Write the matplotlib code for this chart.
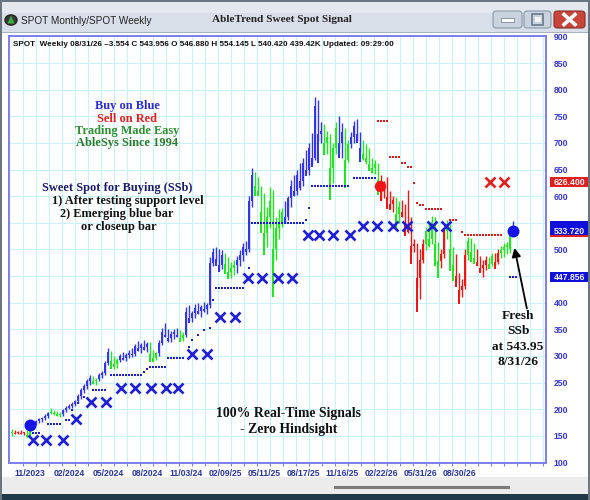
import matplotlib
matplotlib.use('Agg')
import matplotlib.pyplot as plt
from matplotlib.patches import Rectangle, FancyBboxPatch, Circle, Polygon
from matplotlib import font_manager
import matplotlib.transforms as mtransforms
import numpy as np

# ---------------- data (weekly bars, index 0 = first bar) ----------------
bar_colors = ("grrrrggbbbbbbggggbbbbbbbbbbggbbbbgggbbbbbbbbbbgggbbbbbbbggbbbbbbbbbbbbbgggg"
              "bbbbbbggggggggggbbbbbbbbbbbbbgggggbbggbbbbggggggrrrrrggrrrrrrrrgggggrrgggrrrr"
              "gggrrrrggrrggggbb")
opens = [156, 158, 156, 157, 155, 156, 152, 163, 174, 178, 181, 184, 188, 196, 194, 192, 190,
         190, 198, 203, 206, 210, 215, 225, 236, 244, 252, 256, 252, 256, 265, 268, 286, 305,
         290, 285, 292, 300, 296, 302, 306, 304, 318, 314, 320, 316, 320, 304, 296, 305, 325,
         345, 340, 334, 342, 344, 342, 334, 340, 382, 372, 380, 390, 384, 392, 388, 396, 475,
         495, 482, 470, 490, 472, 458, 466, 470, 480, 490, 505, 500, 590, 640, 620, 610, 570,
         530, 560, 590, 500, 540, 548, 570, 560, 596, 620, 610, 640, 628, 662, 650, 690, 672,
         770, 716, 722, 700, 712, 652, 690, 728, 700, 720, 668, 698, 712, 732, 716, 690, 680,
         672, 660, 652, 658, 630, 610, 620, 598, 586, 592, 566, 580, 570, 548, 540, 506, 510,
         446, 480, 510, 534, 520, 552, 510, 478, 492, 534, 540, 500, 470, 450, 424, 432, 490,
         516, 496, 484, 476, 466, 470, 480, 472, 488, 476, 494, 498, 504, 500, 546.88]
highs = [162, 160, 159, 160, 158, 160, 164, 176, 180, 184, 186, 190, 195, 202, 198, 196, 194,
         200, 206, 210, 214, 218, 228, 240, 248, 256, 264, 262, 258, 268, 272, 290, 315, 310,
         300, 296, 304, 308, 306, 312, 314, 322, 328, 324, 330, 326, 326, 312, 308, 330, 352,
         362, 350, 346, 350, 352, 348, 344, 392, 396, 385, 398, 400, 395, 402, 400, 485, 502,
         504, 500, 498, 494, 486, 476, 480, 488, 498, 512, 516, 600, 652, 646, 636, 620, 606,
         580, 617, 612, 560, 575, 578, 590, 600, 630, 640, 650, 662, 672, 687, 700, 718, 786,
         780, 740, 736, 722, 716, 700, 740, 750, 737, 728, 705, 720, 742, 744, 720, 705, 698,
         690, 672, 668, 662, 640, 628, 636, 610, 600, 598, 590, 592, 586, 612, 560, 520, 512,
         500, 520, 542, 550, 562, 560, 514, 500, 540, 556, 548, 504, 492, 456, 444, 500, 524,
         522, 512, 500, 488, 480, 488, 486, 494, 494, 500, 506, 512, 514, 536, 554.145]
lows = [150, 154, 153, 154, 152, 146, 150, 162, 170, 174, 176, 180, 184, 190, 189, 187, 186,
        188, 194, 200, 202, 206, 212, 220, 230, 238, 246, 248, 246, 252, 258, 264, 282, 282,
        275, 278, 288, 292, 290, 296, 298, 300, 310, 306, 312, 308, 298, 290, 292, 300, 320,
        335, 326, 326, 332, 336, 330, 328, 336, 366, 364, 372, 378, 374, 382, 378, 390, 468,
        476, 462, 464, 466, 450, 446, 452, 456, 468, 478, 490, 496, 580, 612, 604, 560, 520,
        505, 540, 476, 480, 520, 542, 550, 556, 580, 600, 602, 612, 620, 644, 640, 660, 668,
        704, 700, 690, 680, 640, 624, 680, 690, 672, 655, 664, 690, 700, 706, 682, 668, 660,
        650, 644, 642, 620, 592, 596, 590, 578, 570, 560, 550, 560, 540, 530, 494, 496, 430,
        406, 474, 498, 505, 510, 500, 470, 466, 484, 520, 490, 460, 442, 414, 410, 426, 480,
        486, 476, 470, 460, 448, 462, 466, 468, 470, 472, 484, 486, 492, 494, 540.42]
closes = [158, 156, 157, 155, 156, 152, 162, 174, 178, 182, 184, 188, 193, 194, 192, 190, 189,
          198, 203, 206, 210, 215, 225, 236, 244, 252, 258, 252, 255, 265, 268, 286, 308, 290,
          285, 292, 300, 296, 302, 306, 304, 318, 314, 320, 316, 322, 304, 296, 305, 325, 345,
          340, 334, 342, 344, 340, 334, 340, 382, 372, 380, 390, 384, 392, 388, 396, 475, 495,
          482, 470, 490, 472, 458, 466, 470, 480, 490, 505, 500, 590, 640, 620, 610, 570, 530,
          560, 590, 500, 540, 548, 570, 560, 596, 620, 610, 640, 628, 662, 650, 690, 672, 770,
          716, 722, 700, 712, 652, 690, 728, 700, 720, 668, 698, 712, 732, 716, 690, 680, 672,
          660, 652, 660, 630, 610, 620, 598, 586, 592, 566, 580, 570, 548, 540, 506, 510, 446,
          480, 510, 534, 520, 552, 510, 478, 492, 534, 540, 500, 470, 450, 424, 432, 490, 516,
          496, 484, 476, 466, 470, 480, 472, 488, 476, 494, 498, 504, 508, 530, 543.956]

# support (blue) and resistance (red) stop dots: segments of bars at one level
sup_start = [7, 12, 18, 20, 22, 24, 27, 33, 44, 45, 46, 47, 52, 59, 60, 62, 64, 66, 67, 68, 79, 80, 98, 99, 100, 114]
sup_end   = [9, 16, 19, 20, 22, 24, 31, 43, 44, 45, 46, 51, 57, 59, 60, 62, 64, 66, 67, 77, 79, 97, 98, 99, 112, 121]
sup_level = [155, 173, 179, 198, 211, 222, 236, 264, 270, 275, 280, 280, 296, 316, 330, 339, 349, 353, 405, 427, 465, 549, 555, 578, 619, 634]
res_start = [122, 126, 130, 132, 134, 135, 136, 138, 146, 150, 151]
res_end   = [125, 129, 131, 133, 134, 135, 137, 143, 148, 150, 163]
res_level = [741, 673, 662, 655, 625, 587, 583, 576, 555, 533, 527]

# big X marks
bx_pos = [7, 11.3, 17, 21.3, 26.3, 31.3, 36.3, 41, 46.3, 51.3, 55.3, 60, 65, 69.3, 74.3,
          78.7, 83.3, 88.7, 93.3, 98.7, 102.3, 107, 112.7, 117, 121.7, 127, 131.7, 140, 144.7]
bx_level = [142, 142, 142, 182, 213, 213, 239, 239, 239, 239, 239, 304, 304, 373, 373,
            446, 446, 446, 446, 527, 527, 527, 527, 544, 544, 544, 544, 544, 544]
rx_pos = [159.3, 164]
rx_level = [626, 626]

# signal circles
buy_circle_pos = [6, 167]
buy_circle_level = [170, 534]
sell_circle_pos = [122.7]
sell_circle_level = [619]

# tick labels
x_tick_pos = [6, 19, 32, 45, 58, 71, 84, 97, 110, 123, 136, 149]
x_tick_labels = ["11/2023", "02/2024", "05/2024", "08/2024", "11/03/24", "02/09/25",
                 "05/11/25", "08/17/25", "11/16/25", "02/22/26", "05/31/26", "08/30/26"]
y_ticks = [100, 150, 200, 250, 300, 350, 400, 450, 500, 550, 600, 650, 700, 750, 800, 850, 900]
y_tick_labels = ["100", "150", "200", "250", "300", "350", "400", "", "500", "", "600",
                 "650", "700", "750", "800", "850", "900"]

# price boxes on the right scale
box_values = [626.400, 543.956, 533.720, 447.856]
box_labels = ["626.400", "", "533.720", "447.856"]
box_colors = ["#e0201c", "#1010d8", "#1010d8", "#1010d8"]

stop_small_pos = [166, 167, 168]
stop_small_level = [448, 448, 448]

# ---------------- fonts ----------------
names = {f.name for f in font_manager.fontManager.ttflist}
if 'Liberation Sans Narrow' in names:
    NARROW, NSIZE, HSIZE = 'Liberation Sans Narrow', 7.3, 7.0
else:
    NARROW, NSIZE, HSIZE = 'Liberation Sans', 6.2, 5.85
SERIF = 'Liberation Serif'
SANS = 'Liberation Sans'

W, H = 590, 500
def fx(px):
    return px / W
def fy(py):
    return 1 - py / H

fig = plt.figure(figsize=(5.9, 5.0), dpi=100, facecolor='white')

def prect(x0, y0, x1, y1, **kw):
    fig.patches.append(Rectangle((fx(x0), fy(y1)), fx(x1) - fx(x0), fy(y0) - fy(y1),
                                 transform=fig.transFigure, **kw))

# ---------------- window chrome ----------------
prect(0, 0, 590, 32, fc='#d9dfe8', ec='none')
prect(0, 0, 590, 13, fc='#e3e8ef', ec='none')
prect(0, 31.5, 590, 32.5, fc='#a9b3bf', ec='none')
prect(0, 477, 590, 494, fc='#ececec', ec='none')
prect(0, 494, 590, 500, fc='#213a4a', ec='none')
prect(0, 0, 2, 500, fc='#6b7580', ec='none')
prect(588, 0, 590, 500, fc='#6b7580', ec='none')
prect(0, 0, 590, 1.5, fc='#6b7580', ec='none')
# scroll bar
fig.lines.append(plt.Line2D([fx(335), fx(508)], [fy(487), fy(487)], transform=fig.transFigure,
                            color='#7a7a7a', lw=2.2))

def button(x0, x1, fc, ec):
    fig.patches.append(FancyBboxPatch((fx(x0), fy(28)), fx(x1) - fx(x0), fy(11) - fy(28),
                                      boxstyle='round,pad=0,rounding_size=0.006',
                                      transform=fig.transFigure, fc=fc, ec=ec, lw=0.8))
button(493, 522, '#c9d3df', '#8a98a8')
button(524, 551, '#c9d3df', '#8a98a8')
button(554, 585, '#c8453a', '#8a3028')
prect(501, 18.5, 514, 21.5, fc='#ffffff', ec='#6a7888', lw=0.5)
prect(532, 14.5, 543, 24.5, fc='none', ec='#6a7888', lw=1.2)
prect(534.5, 17, 540.5, 22, fc='#f2f4f7', ec='none')
fig.lines.append(plt.Line2D([fx(564), fx(575)], [fy(14.5), fy(24.5)], transform=fig.transFigure,
                            color='white', lw=2.6))
fig.lines.append(plt.Line2D([fx(564), fx(575)], [fy(24.5), fy(14.5)], transform=fig.transFigure,
                            color='white', lw=2.6))
# app icon
fig.patches.append(Circle((fx(11), fy(20)), fx(6), transform=fig.transFigure, fc='#3b3b3b', ec='#222'))
fig.patches.append(Polygon([(fx(7.5), fy(23.5)), (fx(14.5), fy(23.5)), (fx(11), fy(15.5))],
                           closed=True, transform=fig.transFigure, fc='#3fb040', ec='none'))

fig.text(fx(21), fy(20.5), "SPOT Monthly/SPOT Weekly", family=SANS, fontsize=7.2,
         color='#222222', ha='left', va='center')
fig.text(fx(282), fy(20), "AbleTrend Sweet Spot Signal", family=SERIF, fontsize=8.1,
         weight='bold', color='#222222', ha='center', va='center')

# ---------------- main axes ----------------
ax = fig.add_axes([fx(9), fy(463), fx(546) - fx(9), fy(36) - fy(463)])
ax.set_xlim(-1, 178)
ax.set_ylim(98.9, 900.75)
for s in ax.spines.values():
    s.set_color('#7d7df2')
    s.set_linewidth(1.4)

# grid
grid_pos = np.arange(3.57, 178, 13 / 3)
for g in grid_pos:
    ax.axvline(g, color='#c8f1f8', lw=0.8, zorder=0)
for yv in y_ticks:
    ax.axhline(yv, color='#c8f1f8', lw=0.8, zorder=0)

ax.set_xticks(x_tick_pos)
ax.set_xticklabels(x_tick_labels)
ax.set_xticks(grid_pos, minor=True)
ax.tick_params(axis='x', which='major', length=0, pad=4, labelcolor='#24349a')
ax.tick_params(axis='x', which='minor', length=2.5, color='#7d7df2', width=0.8)
ax.yaxis.tick_right()
ax.set_yticks(y_ticks)
ax.set_yticklabels(y_tick_labels)
ax.tick_params(axis='y', length=0, pad=5.5, labelcolor='#3434d0')
for lab in ax.get_xticklabels() + ax.get_yticklabels():
    lab.set_family(NARROW)
    lab.set_fontsize(NSIZE)
    lab.set_weight('bold')

# bars
cmap = {'b': '#3434ee', 'g': '#22e622', 'r': '#f01414'}
idx = np.arange(len(opens))
cols = [cmap[c] for c in bar_colors[:len(opens)]]
o = np.array(opens, float); h = np.array(highs, float)
l = np.array(lows, float); c = np.array(closes, float)
ax.vlines(idx, l, h, colors=cols, lw=1.0, zorder=3)
body_h = np.where(np.abs(c - o) < 2.0, 2.0, c - o)
ax.bar(idx, body_h, bottom=np.minimum(o, c), width=0.85, color=cols, zorder=3, linewidth=0)

# stop dots
sx, sy = [], []
for a, b, lv in zip(sup_start, sup_end, sup_level):
    for i in range(a, b + 1):
        sx.append(i); sy.append(lv)
ax.plot(sx, sy, 's', ms=1.45, mew=0, color='#1c1cd0', ls='none', zorder=4)
rx_, ry_ = [], []
for a, b, lv in zip(res_start, res_end, res_level):
    for i in range(a, b + 1):
        rx_.append(i); ry_.append(lv)
ax.plot(rx_, ry_, 's', ms=1.45, mew=0, color='#e01818', ls='none', zorder=4)
ax.plot(stop_small_pos, stop_small_level, 's', ms=1.6, mew=0, color='#1c1cd0', ls='none', zorder=4)

# X marks
ax.plot(bx_pos, bx_level, 'x', ms=6.5, mew=1.9, color='#1e1ed6', ls='none', zorder=5)
ax.plot(rx_pos, rx_level, 'x', ms=6.5, mew=1.9, color='#e02020', ls='none', zorder=5)

# circles
ax.plot(buy_circle_pos, buy_circle_level, 'o', ms=7.6, color='#1414e6', ls='none', zorder=6)
ax.plot(sell_circle_pos, sell_circle_level, 'o', ms=7.2, color='#f01414', ls='none', zorder=6)

# right-scale price boxes
trans = mtransforms.blended_transform_factory(ax.transAxes, ax.transData)
bh = 20.0
bx0 = (550 - 9) / 537
bw = (588 - 550) / 537
for v, lab, col in zip(box_values, box_labels, box_colors):
    ax.add_patch(Rectangle((bx0, v - bh / 2), bw, bh, transform=trans, fc=col, ec='none',
                           clip_on=False, zorder=7))
    if lab:
        ax.text(bx0 + bw / 2, v, lab, transform=trans, ha='center', va='center', color='#f4f4ff',
                family=NARROW, fontsize=NSIZE, weight='bold', clip_on=False, zorder=8)
ax.add_patch(Rectangle((bx0, box_values[2] - bh / 2), bw, 4, transform=trans, fc='#e02020',
                       ec='none', clip_on=False, zorder=8))

# arrow
ax.annotate('', xy=(167.3, 508), xytext=(171.8, 384),
            arrowprops=dict(arrowstyle='-|>', color='black', lw=1.3, mutation_scale=13),
            annotation_clip=False, zorder=6)

# ---------------- texts ----------------
fig.text(fx(13), fy(45), "SPOT  Weekly 08/31/26 \u20133.554 C 543.956 O 546.880 H 554.145 L 540.420 439.42K Updated: 09:29:00",
         family=NARROW, fontsize=HSIZE, weight='bold', color='#111111', ha='left', va='center')

def stext(x, y, s, color='#111111', size=8.9, ha='center'):
    fig.text(fx(x), fy(y), s, family=SERIF, weight='bold', fontsize=size, color=color,
             ha=ha, va='center')

stext(127, 106, "Buy on Blue", '#2a2ad8')
stext(127, 119, "Sell on Red", '#e41e1e')
stext(127, 131, "Trading Made Easy", '#2f8f2f')
stext(127, 143, "AbleSys Since 1994", '#2b7d2b')
stext(42, 188, "Sweet Spot for Buying (SSb)", '#1c1c6c', ha='left')
stext(52, 201, "1) After testing support level", ha='left')
stext(60, 214, "2) Emerging blue bar", ha='left')
stext(81, 227, "or closeup bar", ha='left')
stext(288, 413, "100% Real-Time Signals", size=9.9)
stext(289, 430, "- Zero Hindsight", size=9.9)
stext(518, 316, "Fresh", size=9.6)
stext(518, 331, "SSb", size=9.6)
stext(518, 347, "at 543.95", size=9.6)
stext(518, 362, "8/31/26", size=9.6)

fig.savefig('out.png', dpi=100, facecolor='white')
